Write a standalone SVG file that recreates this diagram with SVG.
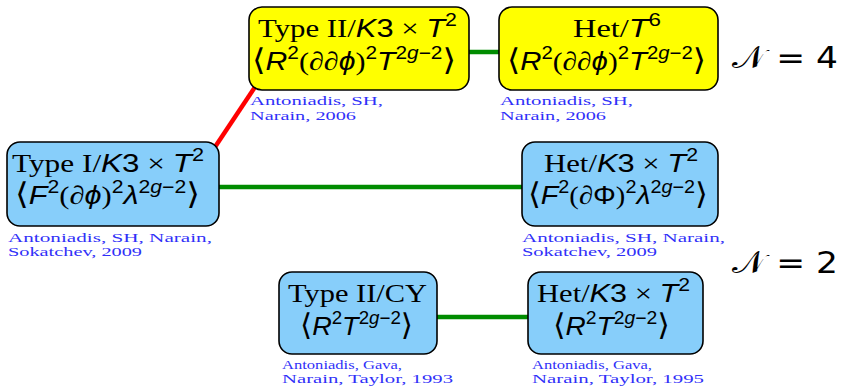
<svg xmlns="http://www.w3.org/2000/svg" width="842" height="386" viewBox="0 0 842 386">
<style>
.box{stroke:#000;stroke-width:1.6}
.y{fill:#ffff00}
.b{fill:#87cefa}
.t{font-family:"Liberation Serif",serif;font-size:26px;fill:#000}
.m{font-family:"Liberation Sans","DejaVu Sans",sans-serif;font-style:italic}
.u{font-family:"Liberation Sans","DejaVu Sans",sans-serif;font-style:normal}
.s{font-size:18px}
.k{font-family:"DejaVu Serif",serif;font-size:30px;font-weight:300}
.c{font-family:"Liberation Serif",serif;font-size:13px;fill:#3030f8}
.lbl{font-family:"DejaVu Sans","Liberation Sans",sans-serif;font-size:31px;fill:#000}
.g{stroke:#008c00;stroke-width:4.5;fill:none}
.r{stroke:#ff0000;stroke-width:4.5;fill:none}
</style>
<rect width="842" height="386" fill="#ffffff"/>
<g id="connectors">
<line class="r" x1="209" y1="156" x2="261" y2="78"/>
<line class="g" x1="465" y1="52" x2="503" y2="52"/>
<line class="g" x1="215" y1="187" x2="526" y2="187"/>
<line class="g" x1="433" y1="317" x2="532" y2="317"/>
</g>
<g id="n1">
<rect class="box y" x="249" y="7" width="220" height="83" rx="13"/>
<text class="t" x="258" y="36.5" textLength="199" lengthAdjust="spacingAndGlyphs">Type II/<tspan class="m">K</tspan><tspan class="u">3</tspan> × <tspan class="m">T</tspan><tspan class="u s" dy="-11">2</tspan></text>
<text class="t" x="252" y="70" textLength="204" lengthAdjust="spacingAndGlyphs"><tspan class="k">⟨</tspan><tspan class="m">R</tspan><tspan class="u s" dy="-11">2</tspan><tspan dy="11">(∂∂</tspan><tspan class="m">ϕ</tspan>)<tspan class="u s" dy="-11">2</tspan><tspan class="m" dy="11">T</tspan><tspan class="u s" dy="-11">2<tspan class="m">g</tspan>−2</tspan><tspan class="k" dy="11">⟩</tspan></text>
<text class="c" x="250" y="105" textLength="133" lengthAdjust="spacingAndGlyphs">Antoniadis, SH,</text>
<text class="c" x="250" y="119.5" textLength="106" lengthAdjust="spacingAndGlyphs">Narain, 2006</text>
</g>
<g id="n2">
<rect class="box y" x="499" y="7" width="219" height="83" rx="13"/>
<text class="t" x="573" y="36.5" textLength="88" lengthAdjust="spacingAndGlyphs">Het/<tspan class="m">T</tspan><tspan class="u s" dy="-11">6</tspan></text>
<text class="t" x="507" y="70" textLength="199" lengthAdjust="spacingAndGlyphs"><tspan class="k">⟨</tspan><tspan class="m">R</tspan><tspan class="u s" dy="-11">2</tspan><tspan dy="11">(∂∂</tspan><tspan class="m">ϕ</tspan>)<tspan class="u s" dy="-11">2</tspan><tspan class="m" dy="11">T</tspan><tspan class="u s" dy="-11">2<tspan class="m">g</tspan>−2</tspan><tspan class="k" dy="11">⟩</tspan></text>
<text class="c" x="500" y="105" textLength="133" lengthAdjust="spacingAndGlyphs">Antoniadis, SH,</text>
<text class="c" x="500" y="119.5" textLength="106" lengthAdjust="spacingAndGlyphs">Narain, 2006</text>
</g>
<g id="n3">
<rect class="box b" x="7" y="142" width="212" height="84" rx="13"/>
<text class="t" x="12" y="171.5" textLength="192" lengthAdjust="spacingAndGlyphs">Type I/<tspan class="m">K</tspan><tspan class="u">3</tspan> × <tspan class="m">T</tspan><tspan class="u s" dy="-11">2</tspan></text>
<text class="t" x="15" y="204" textLength="185" lengthAdjust="spacingAndGlyphs"><tspan class="k">⟨</tspan><tspan class="m">F</tspan><tspan class="u s" dy="-11">2</tspan><tspan dy="11">(∂</tspan><tspan class="m">ϕ</tspan>)<tspan class="u s" dy="-11">2</tspan><tspan class="m" dy="11">λ</tspan><tspan class="u s" dy="-11">2<tspan class="m">g</tspan>−2</tspan><tspan class="k" dy="11">⟩</tspan></text>
<text class="c" x="8" y="241.5" textLength="204" lengthAdjust="spacingAndGlyphs">Antoniadis, SH, Narain,</text>
<text class="c" x="8" y="256" textLength="134" lengthAdjust="spacingAndGlyphs">Sokatchev, 2009</text>
</g>
<g id="n4">
<rect class="box b" x="522" y="142" width="196" height="84" rx="13"/>
<text class="t" x="544" y="171.5" textLength="154" lengthAdjust="spacingAndGlyphs">Het/<tspan class="m">K</tspan><tspan class="u">3</tspan> × <tspan class="m">T</tspan><tspan class="u s" dy="-11">2</tspan></text>
<text class="t" x="528" y="204" textLength="180" lengthAdjust="spacingAndGlyphs"><tspan class="k">⟨</tspan><tspan class="m">F</tspan><tspan class="u s" dy="-11">2</tspan><tspan dy="11">(∂</tspan><tspan class="u">Φ</tspan>)<tspan class="u s" dy="-11">2</tspan><tspan class="m" dy="11">λ</tspan><tspan class="u s" dy="-11">2<tspan class="m">g</tspan>−2</tspan><tspan class="k" dy="11">⟩</tspan></text>
<text class="c" x="522" y="241.5" textLength="203" lengthAdjust="spacingAndGlyphs">Antoniadis, SH, Narain,</text>
<text class="c" x="522" y="256" textLength="135" lengthAdjust="spacingAndGlyphs">Sokatchev, 2009</text>
</g>
<g id="n5">
<rect class="box b" x="279" y="272" width="158" height="82" rx="13"/>
<text class="t" x="288" y="301.5" textLength="139" lengthAdjust="spacingAndGlyphs">Type II/CY</text>
<text class="t" x="300" y="335" textLength="113" lengthAdjust="spacingAndGlyphs"><tspan class="k">⟨</tspan><tspan class="m">R</tspan><tspan class="u s" dy="-11">2</tspan><tspan class="m" dy="11">T</tspan><tspan class="u s" dy="-11">2<tspan class="m">g</tspan>−2</tspan><tspan class="k" dy="11">⟩</tspan></text>
<text class="c" x="282" y="368.5" textLength="120" lengthAdjust="spacingAndGlyphs">Antoniadis, Gava,</text>
<text class="c" x="282" y="383" textLength="171" lengthAdjust="spacingAndGlyphs">Narain, Taylor, 1993</text>
</g>
<g id="n6">
<rect class="box b" x="528" y="272" width="175" height="82" rx="13"/>
<text class="t" x="537" y="301.5" textLength="153" lengthAdjust="spacingAndGlyphs">Het/<tspan class="m">K</tspan><tspan class="u">3</tspan> × <tspan class="m">T</tspan><tspan class="u s" dy="-11">2</tspan></text>
<text class="t" x="553" y="335" textLength="117" lengthAdjust="spacingAndGlyphs"><tspan class="k">⟨</tspan><tspan class="m">R</tspan><tspan class="u s" dy="-11">2</tspan><tspan class="m" dy="11">T</tspan><tspan class="u s" dy="-11">2<tspan class="m">g</tspan>−2</tspan><tspan class="k" dy="11">⟩</tspan></text>
<text class="c" x="532" y="368.5" textLength="120" lengthAdjust="spacingAndGlyphs">Antoniadis, Gava,</text>
<text class="c" x="532" y="383" textLength="172" lengthAdjust="spacingAndGlyphs">Narain, Taylor, 1995</text>
</g>
<g id="labels">
<text class="lbl" x="732" y="68" textLength="106" lengthAdjust="spacingAndGlyphs">𝒩 = 4</text>
<text class="lbl" x="732" y="273" textLength="106" lengthAdjust="spacingAndGlyphs">𝒩 = 2</text>
</g>
</svg>
